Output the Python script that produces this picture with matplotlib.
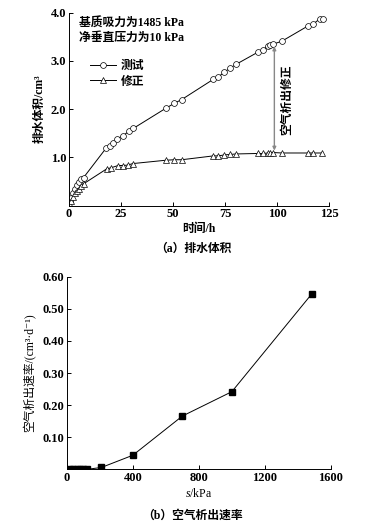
import matplotlib
matplotlib.use("Agg")
import matplotlib.pyplot as plt

# fonts: serif numbers with CJK fallback
plt.rcParams['font.family'] = ['Liberation Serif', 'Noto Sans CJK SC', 'DejaVu Serif']
plt.rcParams['mathtext.fontset'] = 'custom'
plt.rcParams['mathtext.rm'] = 'Liberation Serif'
plt.rcParams['mathtext.it'] = 'Liberation Serif:italic'

# (a) drainage volume vs time
time_test = [0.5, 1, 2, 3, 4, 5, 6, 7, 18, 19.7, 21.3, 23.2, 25.8, 29, 30.9,
             46.6, 50.6, 54.2, 69.4, 71.8, 74.7, 77.4, 80.3,
             90.7, 93.4, 95.5, 96.6, 98.2, 102.3, 115, 117.2, 120.7, 122]
vol_test = [0.1, 0.16, 0.25, 0.34, 0.43, 0.49, 0.55, 0.58, 1.2, 1.24, 1.29, 1.39, 1.44, 1.55, 1.6,
            2.02, 2.12, 2.2, 2.62, 2.67, 2.77, 2.85, 2.93,
            3.18, 3.23, 3.32, 3.34, 3.35, 3.41, 3.73, 3.76, 3.88, 3.88]
time_corr = [0.5, 1, 2, 3, 4, 5, 6, 7, 18.1, 20, 23.6, 26, 28.4, 30.6,
             46.6, 50.6, 54.2, 69.4, 71.8, 74.7, 77.4, 80.3,
             90.7, 93.4, 95.5, 96.6, 98, 102.3, 115, 117.3, 121.7]
vol_corr = [0.02, 0.1, 0.18, 0.25, 0.3, 0.35, 0.4, 0.45, 0.76, 0.78, 0.83, 0.83, 0.84, 0.87,
            0.94, 0.95, 0.95, 1.03, 1.03, 1.05, 1.06, 1.07,
            1.08, 1.08, 1.09, 1.10, 1.10, 1.09, 1.09, 1.09, 1.09]

# (b) air release rate vs suction
suction = [20, 40, 60, 80, 100, 120, 210, 400, 700, 1000, 1485]
rate = [0.0, 0.0, 0.0, 0.0, 0.0, 0.0, 0.006, 0.044, 0.166, 0.242, 0.547]

fig = plt.figure(figsize=(3.71, 5.32), dpi=100)

lw = 0.7
fs_tick = 9
fs_txt = 8.5

def style_axes(ax):
    ax.spines['top'].set_visible(False)
    ax.spines['right'].set_visible(False)
    ax.spines['left'].set_linewidth(lw)
    ax.spines['bottom'].set_linewidth(lw)
    ax.tick_params(direction='in', length=3, width=lw, labelsize=fs_tick, pad=2)
    for lab in ax.get_xticklabels() + ax.get_yticklabels():
        lab.set_fontweight('bold')

# ---- top panel ----
ax1 = fig.add_axes([0.186, 0.6137, 0.701, 0.3623])
ax1.plot(time_test, vol_test, '-o', color='black', lw=lw, ms=4.2,
         mfc='white', mec='black', mew=0.5, label='测试')
ax1.plot(time_corr, vol_corr, '-^', color='black', lw=lw, ms=4.2,
         mfc='white', mec='black', mew=0.5, label='修正')
ax1.set_xlim(0, 125)
ax1.set_ylim(0, 4.0)
ax1.set_xticks([0, 25, 50, 75, 100, 125])
ax1.set_yticks([1.0, 2.0, 3.0, 4.0])
ax1.set_yticklabels(['1.0', '2.0', '3.0', '4.0'])
style_axes(ax1)
ax1.set_xlabel('时间/h', fontsize=fs_txt, fontweight='bold', labelpad=2)
ax1.set_ylabel('排水体积/cm³', fontsize=fs_txt, fontweight='bold', labelpad=4)

ax1.text(0.04, 0.975, '基质吸力为1485 kPa\n净垂直压力为10 kPa', transform=ax1.transAxes,
         fontsize=fs_txt, fontweight='bold', va='top', ha='left', linespacing=1.25)
ax1.legend(loc='upper left', bbox_to_anchor=(0.04, 0.81), frameon=False,
           handlelength=2.2, handletextpad=0.4, labelspacing=0.3,
           prop={'weight': 'bold', 'size': fs_txt})

ax1.annotate('', xy=(98.7, 1.14), xytext=(98.7, 3.30),
             arrowprops=dict(arrowstyle='<|-|>', color='#888888', lw=1.0,
                             mutation_scale=5, shrinkA=0, shrinkB=0))
ax1.text(105, 2.2, '空气析出修正', rotation=90, fontsize=fs_txt, fontweight='bold',
         ha='center', va='center')

fig.text(0.52, 0.532, '（a）排水体积', fontsize=fs_txt, fontweight='bold', ha='center', va='center')

# ---- bottom panel ----
ax2 = fig.add_axes([0.180, 0.1177, 0.712, 0.3622])
ax2.plot(suction, rate, '-s', color='black', lw=lw, ms=3.8, mfc='black', mec='black')
ax2.set_xlim(0, 1600)
ax2.set_ylim(0, 0.60)
ax2.set_xticks([0, 400, 800, 1200, 1600])
ax2.set_yticks([0.10, 0.20, 0.30, 0.40, 0.50, 0.60])
ax2.set_yticklabels(['0.10', '0.20', '0.30', '0.40', '0.50', '0.60'])
style_axes(ax2)
ax2.set_xlabel('$s$/kPa', fontsize=fs_txt, labelpad=2)
ax2.set_ylabel('空气析出速率/(cm³·d⁻¹)', fontsize=fs_txt, labelpad=4)

fig.text(0.52, 0.031, '（b）空气析出速率', fontsize=fs_txt, fontweight='bold', ha='center', va='center')

fig.savefig('out.png', dpi=100, facecolor='white')
